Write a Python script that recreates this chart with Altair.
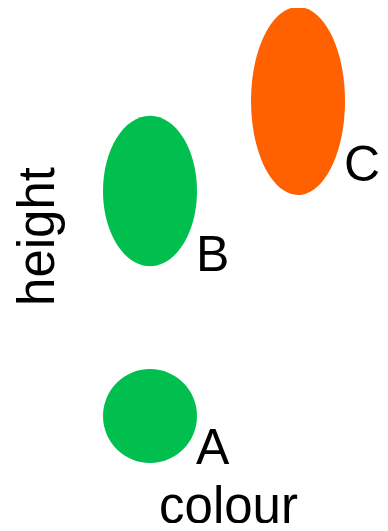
import altair as alt
import pandas as pd

# data
names = ["A", "B", "C"]
colours = ["green", "green", "orange"]
heights = [0.5, 3.0, 4.0]          # vertical position (height axis)
elongation = [1.0, 1.6, 2.0]       # ellipse height / width ratio
palette_domain = ["green", "orange"]
palette_range = ["#00BF4F", "#FF6000"]

df = pd.DataFrame({
    "name": names,
    "colour": colours,
    "height": heights,
    "elong": elongation,
})
# ellipse outline in the unit symbol space (-1..1) with height/width ratio elong
df["path"] = [
    f"M0,-1A{1/e:.4f},1 0 1,1 0,1A{1/e:.4f},1 0 1,1 0,-1Z" for e in df["elong"]
]

FONT = "Liberation Sans"

x_enc = alt.X(
    "colour:N",
    scale=alt.Scale(type="point", padding=0.5),
    axis=alt.Axis(title="colour", labels=False, ticks=False, domain=False, grid=False,
                  titleFontSize=51, titleFont=FONT, titleFontWeight="normal",
                  titlePadding=21, titleColor="black", titleX=152),
)
y_enc = alt.Y(
    "height:Q",
    scale=alt.Scale(domain=[0, 5]),
    axis=alt.Axis(title="height", labels=False, ticks=False, domain=False, grid=False,
                  titleFontSize=51, titleFont=FONT, titleFontWeight="normal",
                  titlePadding=12, titleColor="black"),
)

ellipses = alt.Chart(df).mark_point(filled=True, opacity=1, strokeWidth=0).encode(
    x=x_enc,
    y=y_enc,
    color=alt.Color("colour:N", scale=alt.Scale(domain=palette_domain, range=palette_range), legend=None),
    shape=alt.Shape("path:N", scale=None),
    size=alt.Size("elong:Q", scale=alt.Scale(type="pow", exponent=2, domain=[0, 2], range=[0, 35344]), legend=None),
)

labels = alt.Chart(df).transform_calculate(
    label_y="datum.height - 0.6 * min(datum.elong, 1.6)"
).mark_text(
    align="left", baseline="alphabetic", dx=46, dy=-6, fontSize=50, font=FONT, color="black"
).encode(
    x="colour:N",
    y="label_y:Q",
    text="name:N",
)

chart = alt.layer(ellipses, labels).properties(
    width=296, height=450,
    autosize=alt.AutoSizeParams(type="none"),
    padding={"left": 68, "top": 3, "right": 8, "bottom": 62},
).configure_view(stroke=None)

chart.save("out.html", embed_options={"renderer": "svg", "actions": False})
